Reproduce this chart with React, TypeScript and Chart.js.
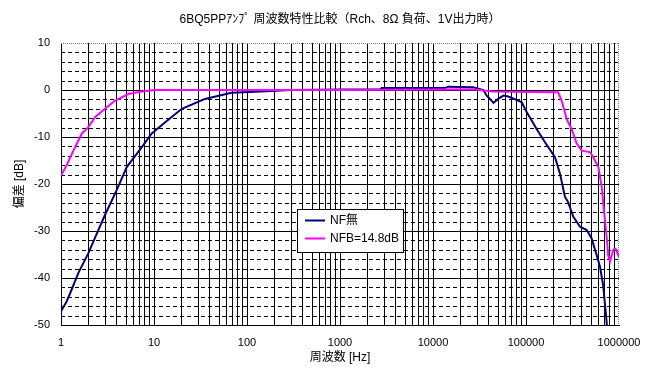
import React, { useEffect, useRef } from 'react';
import { Chart, registerables } from 'chart.js';

Chart.register(...registerables);

const chartTitle = '6BQ5PPｱﾝﾌﾟ 周波数特性比較（Rch、8Ω 負荷、1V出力時）';
const xAxisTitle = '周波数 [Hz]';
const yAxisTitle = '偏差 [dB]';
const seriesNames = ['NF無', 'NFB=14.8dB'];
const seriesColors = ['#000080', '#FF00FF'];

// NF無 (no feedback)
const nfFreq = [1, 1.15, 1.3, 1.53, 1.97, 2.52, 2.97, 3.97, 5.09, 7.37, 9.4, 13.1, 19.9, 35.3, 68, 107, 160, 290, 1000, 2700, 2800, 13500, 14500, 27000, 34800, 37800, 41000, 44600, 50300, 57000, 64500, 79000, 90000, 101700, 130000, 160000, 205000, 232000, 262000, 283000, 323000, 381000, 450000, 508000, 575000, 625000, 678000, 738000, 745000];
const nfDb = [-47.1, -45, -42.5, -39, -34.7, -29.8, -26.6, -21.3, -16.4, -12.2, -9.3, -6.9, -4.0, -1.9, -0.6, -0.45, -0.25, 0, 0.1, 0.1, 0.4, 0.4, 0.7, 0.6, 0, -1.2, -1.9, -2.75, -1.9, -1.2, -1.4, -2.1, -2.6, -4.7, -8.3, -11.1, -14.3, -17.8, -22.7, -23.8, -27.0, -29.1, -29.8, -31.6, -35.1, -37.6, -41.8, -49.6, -51];

// NFB=14.8dB
const nfbFreq = [1, 1.15, 1.36, 1.67, 1.97, 2.32, 2.97, 3.8, 5.3, 7.4, 10.2, 100, 1000, 10000, 27000, 44000, 130000, 222000, 242000, 274000, 309000, 351000, 397000, 488000, 530000, 600000, 652000, 706000, 748000, 763000, 800000, 869000, 920000, 1000000];
const nfbDb = [-18.2, -16.0, -12.9, -9.3, -7.9, -5.8, -4.0, -2.3, -0.85, -0.3, 0, 0, 0, 0.1, 0.15, -0.3, -0.4, -0.5, -2.3, -6.2, -8.3, -11.4, -12.9, -13.2, -14.3, -16.4, -20.6, -27.7, -32.6, -35.1, -36.5, -34.0, -33.8, -35.5];

const xDecades = [1, 10, 100, 1000, 10000, 100000, 1000000];
const xMultipliers = [1, 2, 3, 4, 5, 6, 7, 8, 9];
const yMin = -50;
const yMax = 10;
const yStep = 2;
const yLabelStep = 10;

const FONT = '"Liberation Sans", "Noto Sans CJK JP", sans-serif';

const gridPlugin = {
  id: 'customGrid',
  beforeDatasetsDraw(chart: any) {
    const { ctx, chartArea } = chart;
    const ys = chart.scales.y;
    const xs = chart.scales.x;
    ctx.save();
    ctx.lineWidth = 1;
    // dashed minor horizontal lines
    ctx.strokeStyle = '#000000';
    ctx.setLineDash([4, 3]);
    for (let v = yMin + yStep; v < yMax; v += yStep) {
      if (v % yLabelStep === 0) continue;
      const py = Math.round(ys.getPixelForValue(v)) + 0.5;
      ctx.beginPath();
      ctx.moveTo(chartArea.left, py);
      ctx.lineTo(chartArea.right, py);
      ctx.stroke();
    }
    // dotted grey top and right edges
    ctx.strokeStyle = '#808080';
    ctx.setLineDash([1, 1]);
    const ty = Math.round(ys.getPixelForValue(yMax)) + 0.5;
    const rx = Math.round(xs.getPixelForValue(xDecades[xDecades.length - 1])) - 0.5;
    ctx.beginPath();
    ctx.moveTo(chartArea.left, ty);
    ctx.lineTo(chartArea.right, ty);
    ctx.moveTo(rx, chartArea.top);
    ctx.lineTo(rx, chartArea.bottom);
    ctx.stroke();
    ctx.restore();
  },
};

const legendPlugin = {
  id: 'boxLegend',
  afterDraw(chart: any) {
    const ctx = chart.ctx;
    const x = 297, y = 209, w = 106, h = 43;
    ctx.save();
    ctx.fillStyle = '#ffffff';
    ctx.fillRect(x, y, w, h);
    ctx.strokeStyle = '#000000';
    ctx.lineWidth = 1;
    ctx.strokeRect(x + 0.5, y + 0.5, w, h);
    ctx.font = '12px ' + FONT;
    ctx.textBaseline = 'middle';
    ctx.textAlign = 'left';
    chart.data.datasets.forEach((ds: any, i: number) => {
      const ly = y + 11.5 + i * 18;
      ctx.strokeStyle = ds.borderColor;
      ctx.lineWidth = 2;
      ctx.beginPath();
      ctx.moveTo(x + 8, ly);
      ctx.lineTo(x + 28, ly);
      ctx.stroke();
      ctx.fillStyle = '#000000';
      ctx.fillText(ds.label, x + 33, ly + 0.5);
    });
    ctx.restore();
  },
};

export default function App() {
  const ref = useRef<HTMLCanvasElement>(null);
  useEffect(() => {
    if (!ref.current) return;
    const xGrid: number[] = [];
    xDecades.forEach((d, i) => {
      if (i === xDecades.length - 1) { xGrid.push(d); return; }
      xMultipliers.forEach((m) => xGrid.push(d * m));
    });
    const yGrid: number[] = [];
    for (let v = yMin; v <= yMax; v += yStep) yGrid.push(v);
    const chart = new Chart(ref.current, {
      type: 'line',
      data: {
        datasets: [
          {
            label: seriesNames[0],
            data: nfFreq.map((f, i) => ({ x: f, y: nfDb[i] })),
            borderColor: seriesColors[0],
            backgroundColor: seriesColors[0],
            borderWidth: 2,
            pointRadius: 0,
            tension: 0,
            order: 1,
          },
          {
            label: seriesNames[1],
            data: nfbFreq.map((f, i) => ({ x: f, y: nfbDb[i] })),
            borderColor: seriesColors[1],
            backgroundColor: seriesColors[1],
            borderWidth: 2,
            pointRadius: 0,
            tension: 0,
            order: 0,
          },
        ],
      },
      options: {
        animation: false,
        responsive: false,
        color: '#000',
        layout: { padding: { left: 0, right: 39, top: 0, bottom: 0 } },
        plugins: {
          legend: { display: false },
          tooltip: { enabled: false },
          title: {
            display: true,
            text: chartTitle,
            color: '#000',
            fullSize: false,
            font: { family: FONT, size: 12, weight: 'normal' },
            padding: { top: 12, bottom: 16.6 },
          },
        },
        scales: {
          x: {
            type: 'logarithmic',
            min: 1,
            max: 1000000,
            afterBuildTicks: (scale: any) => {
              scale.ticks = xGrid.map((v) => ({ value: v }));
            },
            afterFit: (scale: any) => { scale.height = 54; },
            ticks: {
              autoSkip: false,
              maxRotation: 0,
              minRotation: 0,
              padding: 11,
              color: '#000',
              font: { family: FONT, size: 11 },
              callback: (v: any) => (xDecades.includes(Number(v)) ? String(v) : ''),
            },
            grid: {
              color: (c: any) => (c.tick && c.tick.value === 1000000 ? 'rgba(0,0,0,0)' : '#000000'),
              lineWidth: 1,
              drawTicks: false,
            },
            border: { display: true, color: '#000', width: 1 },
            title: {
              display: true,
              text: xAxisTitle,
              color: '#000',
              font: { family: FONT, size: 12 },
              padding: { top: 0, bottom: 13.8 },
            },
          },
          y: {
            type: 'linear',
            min: yMin,
            max: yMax,
            afterBuildTicks: (scale: any) => {
              scale.ticks = yGrid.map((v) => ({ value: v }));
            },
            afterFit: (scale: any) => { scale.width = 61; },
            ticks: {
              autoSkip: false,
              padding: 11,
              color: '#000',
              font: { family: FONT, size: 11 },
              callback: (v: any) => (Number(v) % yLabelStep === 0 ? String(v) : ''),
            },
            grid: {
              color: (c: any) => {
                const v = c.tick ? c.tick.value : 0;
                if (v === yMax) return 'rgba(0,0,0,0)';
                return v % yLabelStep === 0 ? '#000000' : 'rgba(0,0,0,0)';
              },
              lineWidth: 1,
              drawTicks: false,
            },
            border: { display: true, color: '#000', width: 1 },
            title: {
              display: true,
              text: yAxisTitle,
              color: '#000',
              font: { family: FONT, size: 12 },
              padding: { top: 12.8, bottom: 0 },
            },
          },
        },
      },
      plugins: [gridPlugin, legendPlugin],
    } as any);
    return () => chart.destroy();
  }, []);
  return (
    <div style={{ position: 'fixed', left: 0, top: 0, width: 658, height: 379, background: '#fff' }}>
      <canvas ref={ref} width={658} height={379} style={{ display: 'block' }} />
    </div>
  );
}
